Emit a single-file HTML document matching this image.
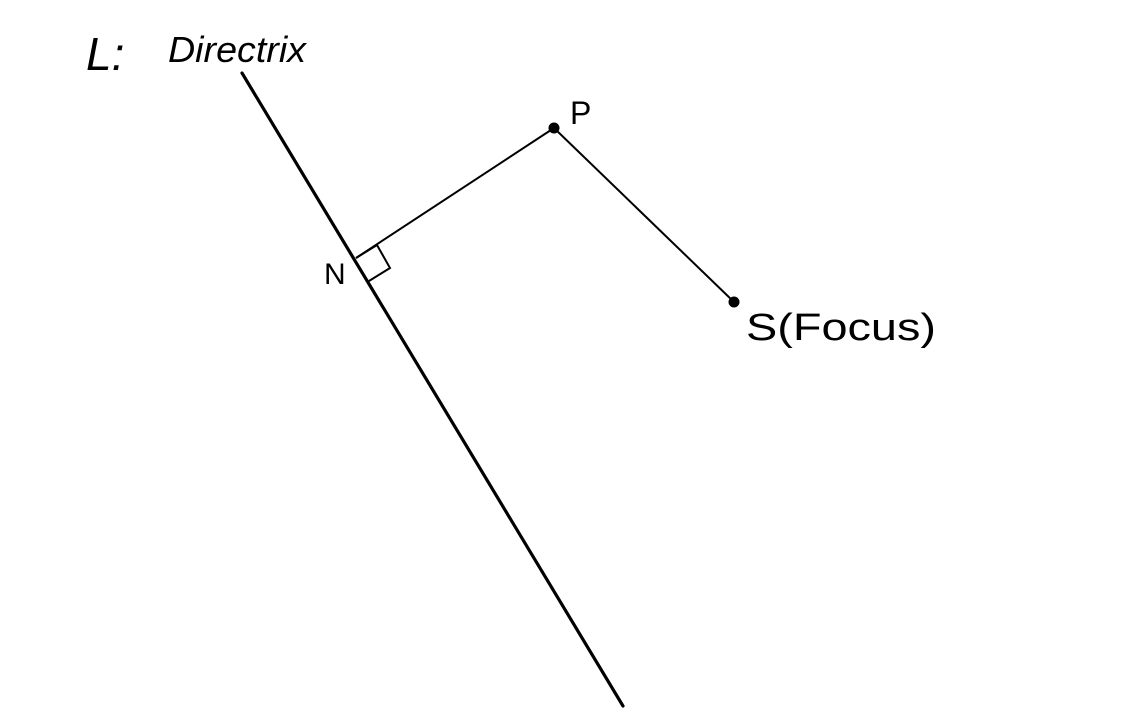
<!DOCTYPE html>
<html><head><meta charset="utf-8"><style>
html,body{margin:0;padding:0;background:#fff;width:1122px;height:727px;overflow:hidden}
svg{display:block}
text{font-family:"Liberation Sans",sans-serif;fill:#000}
</style></head><body>
<svg width="1122" height="727" viewBox="0 0 1122 727">
<line x1="242" y1="73" x2="623" y2="706" stroke="#000" stroke-width="3.2" stroke-linecap="round"/>
<line x1="356" y1="258" x2="554" y2="128" stroke="#000" stroke-width="2"/>
<line x1="554" y1="128" x2="734" y2="302" stroke="#000" stroke-width="2"/>
<polyline points="356,258 377,245 390,268 369,281" fill="none" stroke="#000" stroke-width="2"/>
<circle cx="554" cy="128" r="5.5" fill="#000"/>
<circle cx="734" cy="302" r="5.5" fill="#000"/>
<text x="86" y="70" font-size="46" font-style="italic">L:</text>
<text x="168" y="62" font-size="36" font-style="italic" textLength="138" lengthAdjust="spacingAndGlyphs">Directrix</text>
<text x="570" y="124" font-size="32">P</text>
<text x="324" y="284" font-size="30">N</text>
<text x="746" y="340" font-size="38" textLength="190" lengthAdjust="spacingAndGlyphs">S(Focus)</text>
</svg>
</body></html>
